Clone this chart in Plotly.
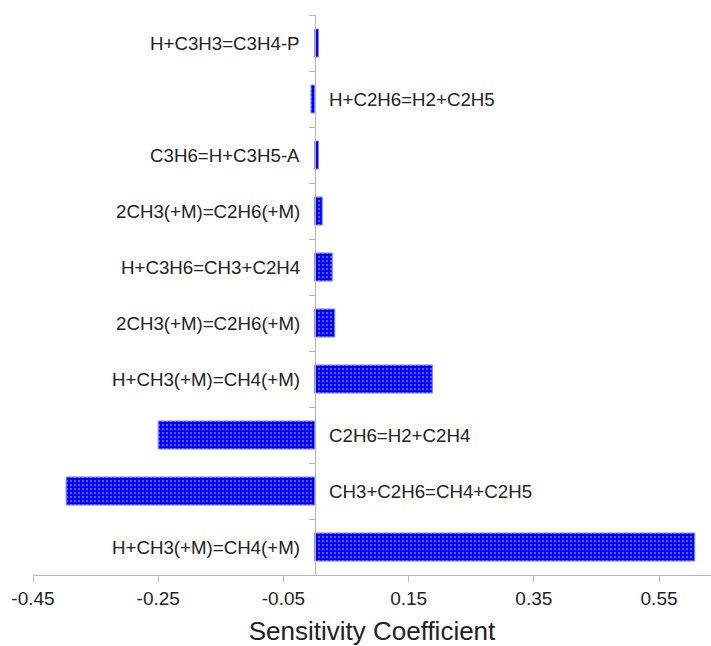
import plotly.graph_objects as go

reactions = [
    "H+CH3(+M)=CH4(+M)",
    "CH3+C2H6=CH4+C2H5",
    "C2H6=H2+C2H4",
    "H+CH3(+M)=CH4(+M)",
    "2CH3(+M)=C2H6(+M)",
    "H+C3H6=CH3+C2H4",
    "2CH3(+M)=C2H6(+M)",
    "C3H6=H+C3H5-A",
    "H+C2H6=H2+C2H5",
    "H+C3H3=C3H4-P",
]
sensitivity = [0.607, -0.397, -0.250, 0.188, 0.032, 0.028, 0.012, 0.006, -0.006, 0.006]
x_ticks = [-0.45, -0.25, -0.05, 0.15, 0.35, 0.55]
x_range = [-0.45, 0.633]

positions = list(range(len(reactions)))
boundaries = [p - 0.5 for p in positions] + [positions[-1] + 0.5]

fig = go.Figure()
fig.add_trace(go.Bar(
    x=sensitivity,
    y=positions,
    orientation="h",
    width=0.5,
    marker=dict(
        color="#0000ff",
        line=dict(color="#7f7fff", width=1),
        pattern=dict(shape=".", fgcolor="#dcdcff", bgcolor="#0000ff",
                     fillmode="replace", size=4, solidity=0.12),
    ),
    showlegend=False,
    hoverinfo="skip",
))

for p, name, v in zip(positions, reactions, sensitivity):
    fig.add_annotation(
        x=0, y=p, xref="x", yref="y", text=name, showarrow=False,
        xanchor="right" if v > 0 else "left",
        xshift=-13 if v > 0 else 12,
        font=dict(family="Liberation Sans, Arial", size=18.7, color="#222222"),
    )

ypos = (0 - x_range[0]) / (x_range[1] - x_range[0])

fig.update_layout(
    width=711, height=646,
    margin=dict(l=33, r=0, t=15, b=71),
    plot_bgcolor="white", paper_bgcolor="white",
    font=dict(family="Liberation Sans, Arial", color="#222222"),
    xaxis=dict(
        range=x_range, tickvals=x_ticks, ticktext=[f"{t:.2f}" for t in x_ticks],
        showline=True, linecolor="#b4b4b4", linewidth=1,
        ticks="outside", ticklen=6, tickcolor="#b4b4b4",
        showgrid=False, zeroline=False,
        tickfont=dict(size=19, color="#222222"),
        title=dict(text="Sensitivity Coefficient", font=dict(size=26, color="#222222"),
                   standoff=14),
    ),
    yaxis=dict(
        range=[boundaries[0], boundaries[-1]],
        anchor="free", position=ypos,
        showline=True, linecolor="#b4b4b4", linewidth=1,
        tickvals=boundaries, ticks="outside", ticklen=6, tickcolor="#b4b4b4",
        showticklabels=False, showgrid=False, zeroline=False,
    ),
)

fig.write_html("out.html")
